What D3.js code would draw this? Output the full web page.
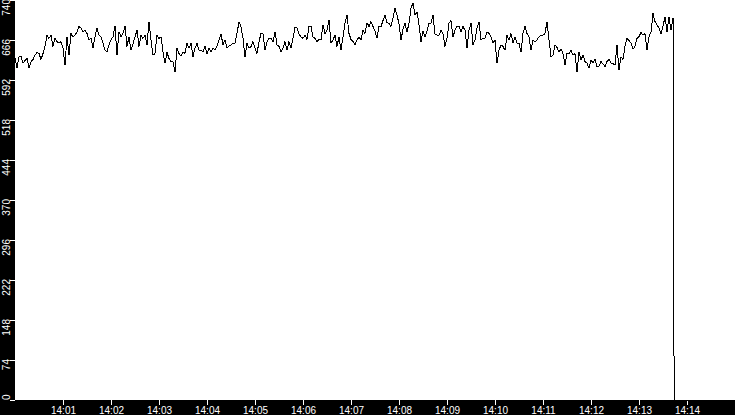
<!DOCTYPE html>
<html>
<head>
<meta charset="utf-8">
<script src="https://cdn.jsdelivr.net/npm/d3@7"></script>
<style>
    html, body { margin: 0; padding: 0; background: #000; }
    svg { display: block; }
    text { font-family: "Liberation Sans", Arial, sans-serif; font-size: 10px; fill: #fff; }
</style>
</head>
<body>
<svg id="chart"></svg>
<script>

// readings, one every 2.5 seconds from 14:00:00
let startTime = "14:00:00";
let endTime = "14:15:00";
let sampleSeconds = 2.5;

let values = [
    632,614,635,636,623,628,632,614,626,630,638,643,641,630,641,654,675,669,675,654,
    669,663,660,663,651,620,672,638,678,671,675,681,691,688,681,684,678,666,669,651,
    672,688,675,672,660,647,644,657,666,672,692,638,681,672,678,692,654,672,
    647,659,672,684,654,675,669,675,657,700,666,638,641,675,669,672,644,623,643,632,
    626,626,607,651,641,636,644,641,660,651,660,635,651,660,647,647,644,654,641,651,
    644,651,647,654,666,677,657,666,651,655,657,660,660,678,700,691,669,635,
    660,651,654,663,651,641,663,678,678,647,663,669,669,663,681,657,654,644,651,
    663,647,663,651,669,689,688,677,672,669,675,667,691,691,672,669,663,667,666,694,
    678,684,703,660,666,675,654,672,647,672,697,712,678,667,663,657,666,671,
    666,684,678,698,691,700,691,683,669,691,691,702,712,698,697,691,706,725,712,696,
    666,686,697,681,697,725,734,712,718,694,663,683,672,683,697,697,712,677,675,675,
    684,678,654,669,697,702,672,684,691,691,681,691,684,651,684,697,657,
    666,688,700,666,669,669,681,678,672,660,666,623,647,657,654,647,675,666,678,661,
    671,660,660,644,678,691,678,672,647,666,663,666,672,675,675,678,700,666,635,638,
    657,652,644,649,641,620,641,641,647,638,641,607,644,629,638,626,623,614,
    629,623,630,617,618,626,622,617,626,630,623,622,620,657,610,635,630,654,669,665,
    660,649,654,669,672,680,675,678,647,672,681,715,700,694,688,678,691,709,681,709,
    684,706
];

// the feed drops out at the end
let tailTimes = ["14:13:43", "14:13:44", "14:15:00"];
let tailValues = [353, 0, 0];

let yTicks = [0, 74, 148, 222, 296, 370, 444, 518, 592, 666, 740];
let xTickLabels = ["14:01", "14:02", "14:03", "14:04", "14:05", "14:06", "14:07",
                   "14:08", "14:09", "14:10", "14:11", "14:12", "14:13", "14:14"];

let width = 735,
    height = 415;
let margin = {top: 0, right: 0, bottom: 15, left: 15};

let parseTime = d3.timeParse("%H:%M:%S");
let parseTick = d3.timeParse("%H:%M");

let t0 = parseTime(startTime);
let points = values.map((v, i) => ({t: d3.timeMillisecond.offset(t0, i * sampleSeconds * 1000), v: v}));
tailTimes.forEach((s, i) => points.push({t: parseTime(s), v: tailValues[i]}));

let svg = d3.select("#chart").attr("width", width).attr("height", height);

svg.append("rect")
    .attr("width", width).attr("height", height)
    .attr("fill", "#000");

let x = d3.scaleTime()
    .domain([t0, parseTime(endTime)])
    .range([margin.left, width - margin.right]);

let y = d3.scaleLinear()
    .domain([0, 740])
    .range([height - margin.bottom, margin.top]);

svg.append("rect")
    .attr("x", margin.left).attr("y", margin.top)
    .attr("width", width - margin.left - margin.right)
    .attr("height", height - margin.top - margin.bottom)
    .attr("fill", "#fff");

// x axis
let xAxis = d3.axisBottom(x)
    .tickValues(xTickLabels.map(parseTick))
    .tickFormat(d3.timeFormat("%H:%M"))
    .tickSize(5)
    .tickPadding(2);

let gx = svg.append("g")
    .attr("transform", `translate(0,${height - margin.bottom})`)
    .call(xAxis);
gx.select(".domain").remove();
gx.selectAll(".tick line").attr("stroke", "#fff").attr("shape-rendering", "crispEdges");
gx.selectAll(".tick text").attr("fill", "#fff")
    .style("font-family", "'Liberation Sans', Arial, sans-serif").style("font-size", "10px");

// y axis, labels turned on their side
let gy = svg.append("g");
gy.selectAll("line")
    .data(yTicks)
    .join("line")
    .attr("x1", margin.left - 5).attr("x2", margin.left)
    .attr("y1", d => y(d)).attr("y2", d => y(d))
    .attr("stroke", "#fff")
    .attr("shape-rendering", "crispEdges");

gy.selectAll("text")
    .data(yTicks)
    .join("text")
    .attr("transform", d => `translate(${margin.left - 5},${y(d)}) rotate(-90)`)
    .attr("x", d => d == 0 ? 0 : 1)
    .attr("text-anchor", d => d == 0 ? "start" : "end")
    .text(d => d);

// series
let line = d3.line()
    .x(d => x(d.t))
    .y(d => y(d.v));

svg.append("path")
    .datum(points)
    .attr("d", line)
    .attr("fill", "none")
    .attr("stroke", "#000")
    .attr("stroke-width", 1)
    .attr("shape-rendering", "crispEdges");

</script>
</body>
</html>
